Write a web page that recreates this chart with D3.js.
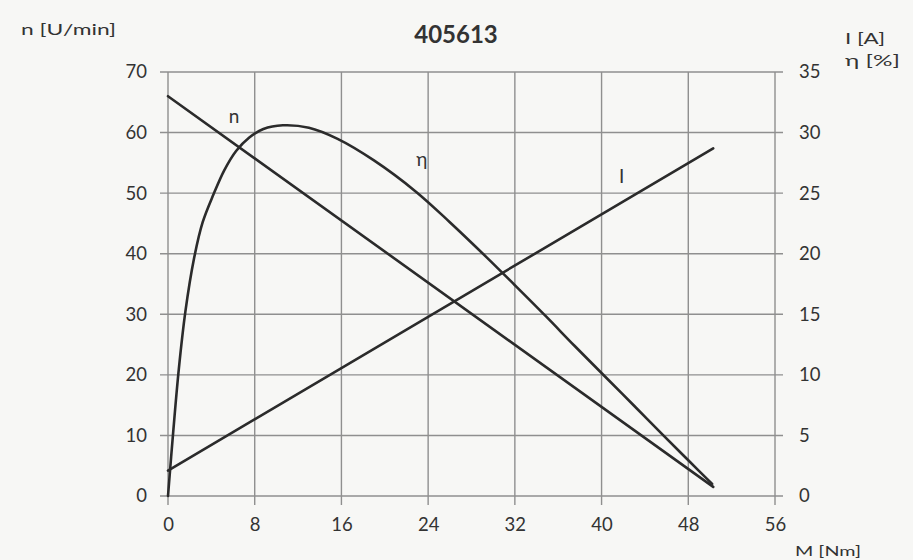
<!DOCTYPE html>
<html>
<head>
<meta charset="utf-8">
<script src="https://cdn.jsdelivr.net/npm/d3@7/dist/d3.min.js"></script>
<style>
  html, body { margin: 0; padding: 0; background: #f7f7f5; }
  svg { display: block; }
  text { font-family: Lato, "Open Sans", sans-serif; fill: #333; }
</style>
</head>
<body>
<svg id="chart" width="913" height="560"></svg>
<script>
// ---- data ----
const title = "405613";
const xTicks = [0, 8, 16, 24, 32, 40, 48, 56];
const leftTicks = [0, 10, 20, 30, 40, 50, 60, 70];
const rightTicks = [0, 5, 10, 15, 20, 25, 30, 35];

const nTorque = [0, 50.3];
const nSpeed = [66, 1.5];            // n [U/min]

const iTorque = [0, 50.3];
const iCurrent = [2.1, 28.7];        // I [A]

const etaTorque = [0, 0.5, 1.0, 1.6, 2.4, 3.2, 4.2, 5.2, 6.3, 7.5, 8.8, 10.6, 13, 15.6, 19, 22.9, 26, 29.4, 32, 34.9, 37.5, 40.5, 43, 45.7, 48, 50.2];
const etaValues = [0, 5.5, 10.5, 15.2, 19.6, 22.6, 24.9, 26.9, 28.5, 29.6, 30.3, 30.6, 30.4, 29.5, 27.7, 25.1, 22.6, 19.7, 17.4, 14.8, 12.4, 9.7, 7.45, 5.0, 2.95, 1.0];  // η [%]

// ---- chart ----
const svg = d3.select("#chart");
const x = d3.scaleLinear().domain([0, 56]).range([168, 775]);
const yL = d3.scaleLinear().domain([0, 70]).range([496, 72]);
const yR = d3.scaleLinear().domain([0, 35]).range([496, 72]);

const grid = svg.append("g").attr("stroke", "#8f8f8f").attr("stroke-width", 1.4);
grid.selectAll("line.h").data(leftTicks).join("line")
  .attr("x1", x(0) - 8).attr("x2", x(56) + 8)
  .attr("y1", d => yL(d)).attr("y2", d => yL(d));
grid.selectAll("line.v").data(xTicks).join("line")
  .attr("x1", d => x(d)).attr("x2", d => x(d))
  .attr("y1", yL(70)).attr("y2", yL(0) + 9);

const axL = svg.append("g").attr("transform", `translate(${x(0) - 21},0)`)
  .call(d3.axisLeft(yL).tickValues(leftTicks).tickSize(0).tickPadding(0));
const axR = svg.append("g").attr("transform", `translate(${x(56) + 24},0)`)
  .call(d3.axisRight(yR).tickValues(rightTicks).tickSize(0).tickPadding(0));
const axB = svg.append("g").attr("transform", `translate(0,${yL(0) + 22})`)
  .call(d3.axisBottom(x).tickValues(xTicks).tickSize(0).tickPadding(0));
[axL, axR, axB].forEach(a => {
  a.select(".domain").remove();
  a.selectAll("text").style("font-family", "Lato, 'Open Sans', sans-serif")
    .style("font-size", "18.5px").attr("fill", "#333");
});

const curveG = svg.append("g").attr("fill", "none").attr("stroke", "#2b2b2b")
  .attr("stroke-width", 2.6).attr("stroke-linecap", "round");

curveG.append("path")
  .attr("d", d3.line().x(d => x(d[0])).y(d => yL(d[1]))(d3.zip(nTorque, nSpeed)));
curveG.append("path")
  .attr("d", d3.line().x(d => x(d[0])).y(d => yR(d[1]))(d3.zip(iTorque, iCurrent)));
curveG.append("path")
  .attr("d", d3.line().x(d => x(d[0])).y(d => yR(d[1])).curve(d3.curveCatmullRom.alpha(0.5))(d3.zip(etaTorque, etaValues)));

// curve labels
svg.append("text").attr("x", x(5.6)).attr("y", yL(61.5)).attr("font-size", 19).text("n");
svg.append("text").attr("x", x(22.9)).attr("y", yR(27.2)).attr("font-size", 19).text("η");
svg.append("text").attr("x", x(41.6)).attr("y", yR(25.8)).attr("font-size", 19).text("I");

// titles
svg.append("text").attr("x", 456).attr("y", 43).attr("text-anchor", "middle")
  .attr("font-size", 24).attr("font-weight", "bold").text(title);
svg.append("text").attr("x", 21).attr("y", 35).attr("font-size", 16)
  .attr("textLength", 95).attr("lengthAdjust", "spacingAndGlyphs").text("n [U/min]");
svg.append("text").attr("x", 845).attr("y", 44).attr("font-size", 15)
  .attr("textLength", 40).attr("lengthAdjust", "spacingAndGlyphs").text("I [A]");
svg.append("text").attr("x", 845).attr("y", 66).attr("font-size", 15)
  .attr("textLength", 55).attr("lengthAdjust", "spacingAndGlyphs").text("η  [%]");
svg.append("text").attr("x", 795).attr("y", 556).attr("font-size", 14)
  .attr("textLength", 66).attr("lengthAdjust", "spacingAndGlyphs").text("M [Nm]");
</script>
</body>
</html>
